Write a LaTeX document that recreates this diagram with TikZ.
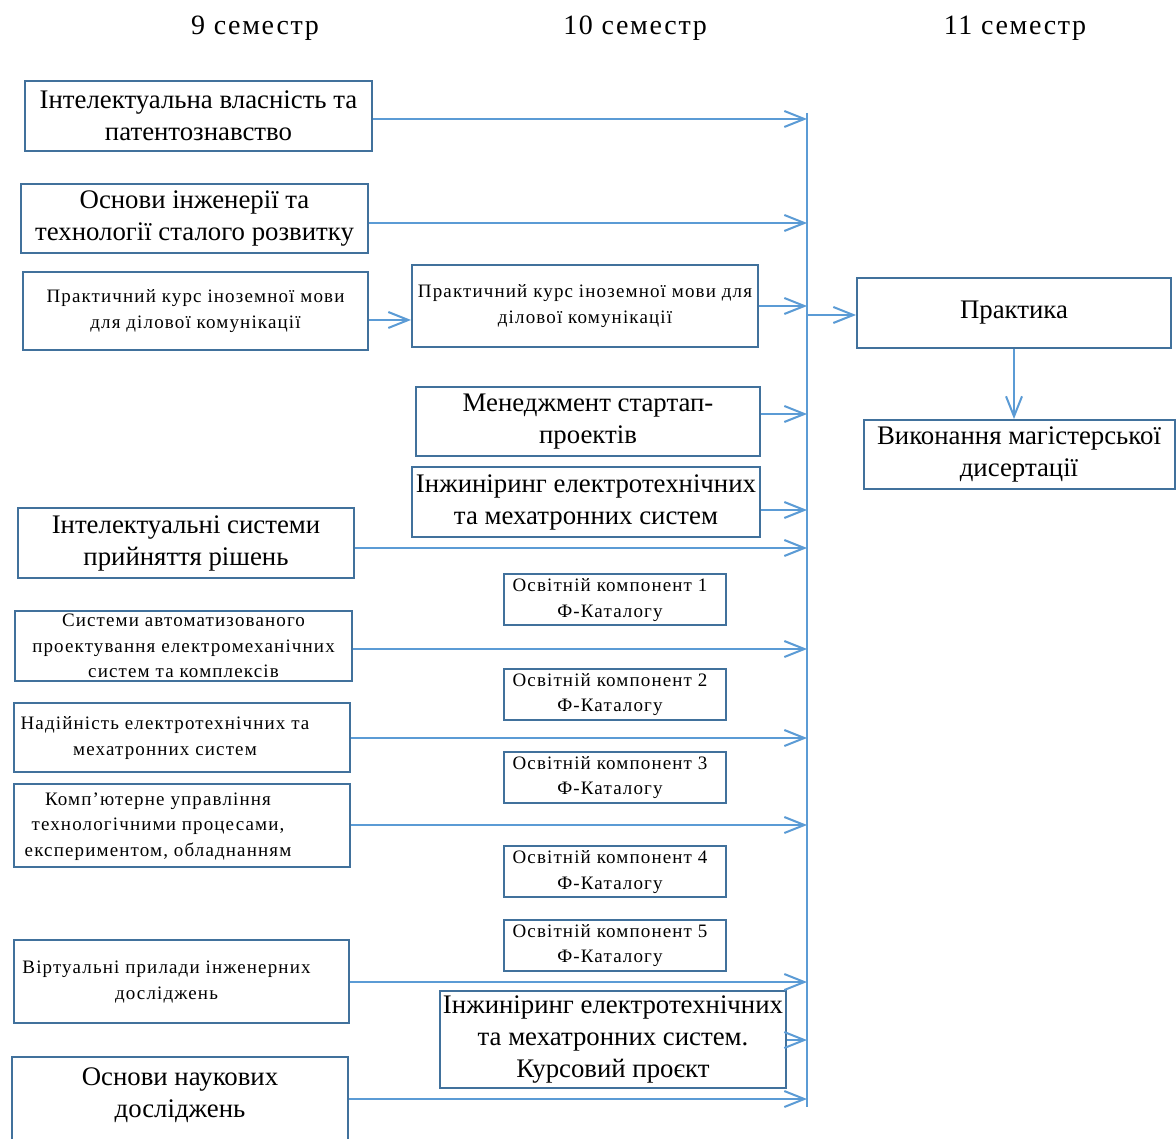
\documentclass[tikz,border=0pt]{standalone}
\usepackage{fontspec}
\setmainfont{Liberation Serif}
\newfontfamily\widefont[LetterSpace=6]{Liberation Serif}
\usetikzlibrary{arrows.meta}
\definecolor{linkblue}{HTML}{5B9BD5}
\definecolor{boxblue}{HTML}{41719C}
% text block pushed to the left inside its box
\newcommand\offtext[2]{\begin{tabular}{@{}c@{}}#2\end{tabular}\hspace*{#1}}

\begin{document}
\begin{tikzpicture}[x=1pt, y=-1pt, >={Straight Barb[length=20pt,width=16pt]},
  box/.style={draw=boxblue, line width=2pt, align=center, inner sep=0pt},
  big/.style={font=\fontsize{26.8}{32}\selectfont},
  small/.style={font=\widefont\fontsize{19}{25.5}\selectfont},
  head/.style={font=\widefont\fontsize{28}{32}\selectfont},
  link/.style={draw=linkblue, line width=2pt}]
\useasboundingbox (0,0) rectangle (1176,1139);
% semester headings
\node[head] (h9) at (255,28) {9 семестр};
\node[head] (h10) at (635,28) {10 семестр};
\node[head] (h11) at (1015,28) {11 семестр};
% 9th semester
\node[box,big,minimum width=347pt,minimum height=70pt] (ip) at (198.5,116) {Інтелектуальна власність та\\патентознавство};
\node[box,big,minimum width=347pt,minimum height=69pt] (sust) at (194.5,218.5) {Основи інженерії та\\технології сталого розвитку};
\node[box,small,minimum width=345pt,minimum height=78pt] (lang1) at (195.5,311) {Практичний курс іноземної мови\\для ділової комунікації};
\node[box,big,minimum width=336pt,minimum height=70pt] (dss) at (186,543) {Інтелектуальні системи\\прийняття рішень};
\node[box,small,minimum width=337pt,minimum height=70pt] (cad) at (183.5,646) {Системи автоматизованого\\проектування електромеханічних\\систем та комплексів};
\node[box,small,minimum width=336pt,minimum height=69pt] (rel) at (182,737.5) {\offtext{34pt}{Надійність електротехнічних та\\мехатронних систем}};
\node[box,small,minimum width=336pt,minimum height=83pt] (ctrl) at (182,825.5) {\offtext{48pt}{Комп’ютерне управління\\технологічними процесами,\\експериментом, обладнанням}};
\node[box,small,minimum width=335pt,minimum height=83pt] (virt) at (181.5,981.5) {\offtext{30pt}{Віртуальні прилади інженерних\\досліджень}};
\node[box,big,minimum width=336pt,minimum height=112pt] (res) at (180,1113) {Основи наукових\\досліджень\\\strut};
% 10th semester
\node[box,small,minimum width=346pt,minimum height=82pt] (lang2) at (585,306) {Практичний курс іноземної мови для\\ділової комунікації};
\node[box,big,minimum width=344pt,minimum height=69pt] (start) at (588,421.5) {Менеджмент стартап-\\проектів};
\node[box,big,minimum width=348pt,minimum height=70pt] (eng) at (586,502) {Інжиніринг електротехнічних\\та мехатронних систем};
\node[box,small,minimum width=222pt,minimum height=49pt] (ok1) at (615,599.5) {\offtext{10pt}{Освітній компонент 1\\Ф-Каталогу}};
\node[box,small,minimum width=222pt,minimum height=48pt] (ok2) at (615,694) {\offtext{10pt}{Освітній компонент 2\\Ф-Каталогу}};
\node[box,small,minimum width=222pt,minimum height=48pt] (ok3) at (615,777) {\offtext{10pt}{Освітній компонент 3\\Ф-Каталогу}};
\node[box,small,minimum width=222pt,minimum height=49pt] (ok4) at (615,871.5) {\offtext{10pt}{Освітній компонент 4\\Ф-Каталогу}};
\node[box,small,minimum width=222pt,minimum height=48pt] (ok5) at (615,945) {\offtext{10pt}{Освітній компонент 5\\Ф-Каталогу}};
\node[box,big,minimum width=346pt,minimum height=97pt] (proj) at (613,1039.5) {Інжиніринг електротехнічних\\та мехатронних систем.\\Курсовий проєкт};
% 11th semester
\node[box,big,minimum width=314pt,minimum height=70pt] (prac) at (1014,313) {Практика};
\node[box,big,minimum width=311pt,minimum height=69pt] (thesis) at (1019,454.5) {Виконання магістерської\\дисертації};
% collecting line
\coordinate (top) at (807,113);
\coordinate (bot) at (807,1107);
\draw[link] (top) -- (bot);
\foreach \src/\yy in {ip/119, sust/223, lang2/306, start/414, eng/510, dss/548, cad/649,
    rel/738, ctrl/825, virt/982, proj/1040, res/1099}
  \draw[link,->] (\src.east |- 0,\yy) -- (807,\yy);
\draw[link,->] (lang1.east |- 0,320) -- (lang2.west |- 0,320);
\draw[link,->] (807,315) -- (prac.west |- 0,315);
\draw[link,->] (prac.south) -- (prac.south |- thesis.north);
\end{tikzpicture}
\end{document}
